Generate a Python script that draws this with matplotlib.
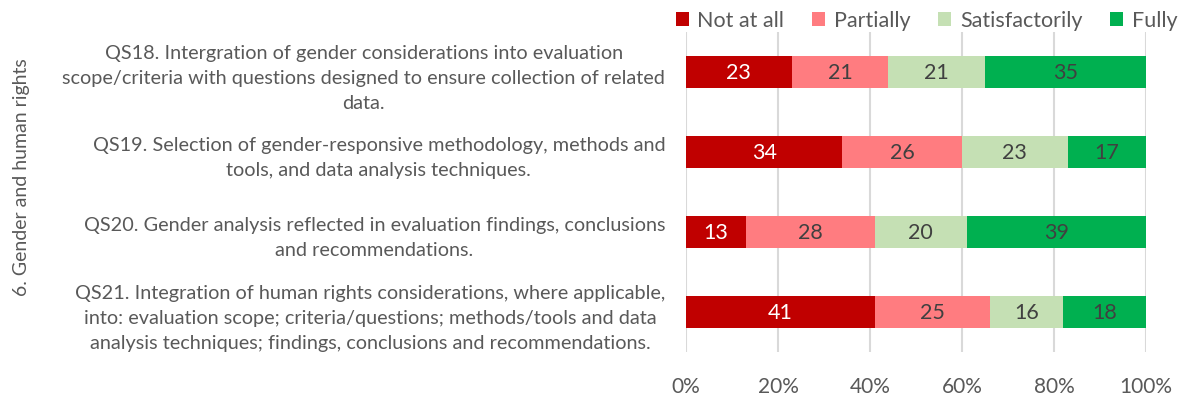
import numpy as np
import matplotlib
matplotlib.use("Agg")
from matplotlib import pyplot as plt

plt.rcParams['font.family'] = ['Lato', 'DejaVu Sans']

questions = [
    "QS18. Intergration of gender considerations into evaluation\nscope/criteria with questions designed to ensure collection of related\ndata.",
    "QS19. Selection of gender-responsive methodology, methods and\ntools, and data analysis techniques.",
    "QS20. Gender analysis reflected in evaluation findings, conclusions\nand recommendations.",
    "QS21. Integration of human rights considerations, where applicable,\ninto: evaluation scope; criteria/questions; methods/tools and data\nanalysis techniques; findings, conclusions and recommendations.",
]
ratings = ["Not at all", "Partially", "Satisfactorily", "Fully"]
not_at_all = [23, 34, 13, 41]
partially = [21, 26, 28, 25]
satisfactorily = [21, 23, 20, 16]
fully = [35, 17, 39, 18]
group_label = "6. Gender and human rights"

colors = ["#C00000", "#FF7C80", "#C5E0B4", "#00B050"]
text_colors = ["white", "#404040", "#404040", "#404040"]
grey = "#595959"

fig = plt.figure(figsize=(11.84, 4.02), dpi=100)
ax = fig.add_axes([0.5794, 0.122, 0.3885, 0.796])

y = np.arange(len(questions))
left = np.zeros(len(questions))
series = [not_at_all, partially, satisfactorily, fully]
for vals, name, c, tc in zip(series, ratings, colors, text_colors):
    vals = np.array(vals, dtype=float)
    bars = ax.barh(y, vals, left=left, height=0.4, color=c, label=name, zorder=3)
    ax.bar_label(bars, labels=[str(int(v)) for v in vals], label_type='center',
                 color=tc, fontsize=15.5)
    left += vals

ax.set_xlim(0, 100)
ax.set_ylim(3.5, -0.5)
ax.set_xticks(np.arange(0, 101, 20))
ax.set_xticklabels([f"{v}%" for v in range(0, 101, 20)])
ax.set_yticks(y)
ax.set_yticklabels(questions, multialignment='center', fontsize=14.3,
                   color=grey, linespacing=1.55)
ax.tick_params(axis='x', labelsize=15, labelcolor=grey, length=0, pad=17)
ax.tick_params(axis='y', length=0, pad=15)
ax.grid(axis='x', color='#D9D9D9', linewidth=1.5, zorder=0)
for s in ax.spines.values():
    s.set_visible(False)

fig.text(0.018, 0.56, group_label, rotation=90, ha='center', va='center',
         fontsize=14, color=grey)

fig.legend(loc='upper right', bbox_to_anchor=(1.011, 1.02), ncol=4, frameon=False,
           fontsize=15.5, handlelength=0.6, handleheight=0.6, handletextpad=0.4,
           columnspacing=1.3, labelcolor=grey)

fig.savefig("out.png", dpi=100)
